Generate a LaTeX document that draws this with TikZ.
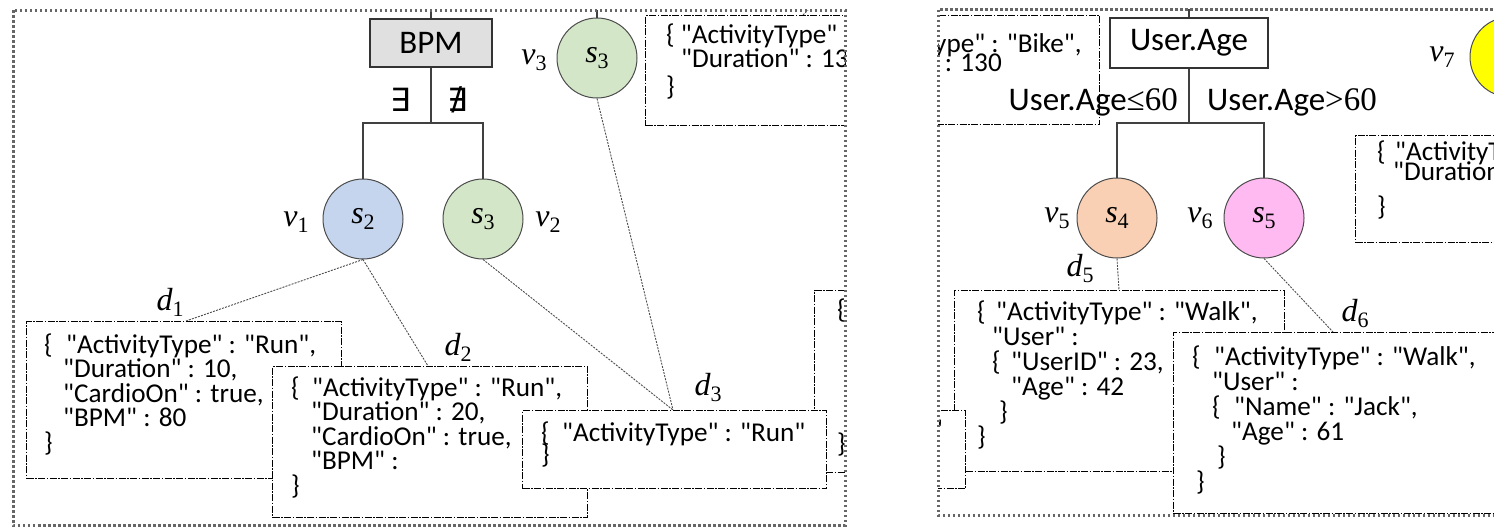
\documentclass[tikz,border=0pt]{standalone}
\usepackage{fontspec}
\newfontfamily\calib{Carlito}
\newfontfamily\serif{Liberation Serif}
\newfontfamily\djv{DejaVu Sans}
\usetikzlibrary{calc}
\definecolor{cblue}{RGB}{197,213,238}
\definecolor{cgreen}{RGB}{211,230,200}
\definecolor{cpeach}{RGB}{249,208,180}
\definecolor{cpink}{RGB}{255,186,242}
\definecolor{cyell}{RGB}{255,255,0}
\definecolor{cgray}{RGB}{224,224,224}
\newcommand\jt{\calib\fontsize{27.2}{25}\selectfont}
\newcommand\jv[2]{\vtop{\baselineskip=#1\lineskiplimit=-100pt\lineskip=0pt #2}}
\newcommand\ml[2]{{\serif\fontsize{32}{32}\selectfont\itshape #1}{\serif\fontsize{22}{22}\selectfont\raisebox{-6pt}{#2}}}
\tikzset{
  frame/.style={draw=black!60, line width=3pt, dash pattern=on 2.5pt off 2.5pt},
  jbox/.style={draw=black, fill=white, line width=1.1pt, dash pattern=on 7pt off 1.5pt on 1.5pt off 1.5pt, rectangle, inner sep=0, anchor=north west},
  jtext/.style={anchor=base west, inner sep=0, font=\jt},
  circ/.style={circle, draw=black!70, line width=1pt, minimum size=80pt, inner sep=0},
  tree/.style={draw=black!75, line width=1.3pt},
  conn/.style={draw=black!70, line width=0.9pt, dash pattern=on 2pt off 1.2pt},
  keybox/.style={draw=black!80, line width=1.3pt, rectangle, inner sep=0, font=\calib\fontsize{33}{33}\selectfont},
  lab/.style={inner sep=0},
  cond/.style={inner sep=0, font=\calib\fontsize{33}{33}\selectfont},
}
\begin{document}
\begin{tikzpicture}[x=1pt,y=-1pt]
\useasboundingbox (0,0) rectangle (1494,528);
% ================= LEFT PANEL =================
\begin{scope}
\clip (13,10) rectangle (845,525);
\node[keybox, fill=cgray, minimum width=122pt, minimum height=48pt] (bpm) at (431,43) {BPM};
\node[circ, fill=cblue] (v1) at (363,219) {\ml{s}{2}};
\node[circ, fill=cgreen] (v2) at (483,219) {\ml{s}{3}};
\node[circ, fill=cgreen] (v3) at (597,58) {\ml{s}{3}};
\coordinate (t1) at (431,10);
\coordinate (t3) at (597,10);
\coordinate (j1) at (431,123);
\draw[tree] (bpm.north) -- (t1);
\draw[tree] (v3.north) -- (t3);
\draw[tree] (bpm.south) -- (j1) -| (v1.north);
\draw[tree] (j1) -| (v2.north);
\coordinate (d1top) at (186,321);
\coordinate (d2top) at (428,366);
\coordinate (d3top) at (673,410);
\coordinate (bk1top) at (803,15);
\coordinate (bk1out) at (808,10);
\draw[conn] (v1.south) -- (d1top);
\draw[conn] (v1.south) -- (d2top);
\draw[conn] (v2.south) -- (d3top);
\draw[conn] (v3.south) -- (d3top);
\draw[conn] (bk1top) -- (bk1out);
% bike box (clipped)
\node[jbox, minimum width=324pt, minimum height=110pt] (bk1) at (645,15) {};
\node[jtext] (bk1a) at (666,43) {\{ "ActivityType"};
\node[jtext] (bk1b) at (681,67) {"Duration" : 13};
\node[jtext] (bk1c) at (666,95) {\}};
% d1
\node[jbox, minimum width=315pt, minimum height=157pt] (d1) at (26,321) {};
\node[jtext] (d1t) at (44,353) {\jv{24.5pt}{%
\hbox{\makebox[22pt][l]{\{}"ActivityType" : "Run",}
\hbox{\hspace*{19pt}"Duration" : 10,}
\hbox{\hspace*{19pt}"CardioOn" : true,}
\hbox{\hspace*{19pt}"BPM" : 80}
\hbox{\}}}};
% d2
\node[jbox, minimum width=315pt, minimum height=151pt] (d2) at (272,366) {};
\node[jtext] (d2t) at (291,396) {\jv{24.5pt}{%
\hbox{\makebox[21pt][l]{\{}"ActivityType" : "Run",}
\hbox{\hspace*{20pt}"Duration" : 20,}
\hbox{\hspace*{20pt}"CardioOn" : true,}
\hbox{\hspace*{20pt}"BPM" :}
\hbox{\}}}};
% right clipped box
\node[jbox, minimum width=200pt, minimum height=182pt] (rb1) at (814,290) {};
\node[jtext] (rb1a) at (837,318) {\{};
\node[jtext] (rb1b) at (837,452) {\}};
% d3
\node[jbox, minimum width=304pt, minimum height=78pt] (d3) at (522,410) {};
\node[jtext] (d3t) at (541,441) {\jv{22pt}{%
\hbox{\makebox[21pt][l]{\{}"ActivityType" : "Run"}
\hbox{\}}}};
% labels
\node[lab, font=\djv\fontsize{32}{32}\selectfont] (ex) at (401,100) {∃};
\node[lab, font=\djv\fontsize{32}{32}\selectfont] (nex) at (458,100) {∄};
\node[lab] (lv1) at (296,222) {\ml{v}{1}};
\node[lab] (lv2) at (548,222) {\ml{v}{2}};
\node[lab] (lv3) at (534,60) {\ml{v}{3}};
\node[lab] (ld1) at (170,302) {\ml{d}{1}};
\node[lab] (ld2) at (458,347) {\ml{d}{2}};
\node[lab] (ld3) at (708,387) {\ml{d}{3}};
\end{scope}
\draw[frame] (13,10) rectangle (845,525);
% ================= RIGHT PANEL =================
\begin{scope}
\clip (938,9) rectangle (1494,515);
\node[keybox, fill=white, minimum width=158pt, minimum height=50pt] (age) at (1189,43) {User.Age};
\node[circ, fill=cpeach] (v5) at (1117,218) {\ml{s}{4}};
\node[circ, fill=cpink] (v6) at (1264,218) {\ml{s}{5}};
\node[circ, fill=cyell] (v7) at (1510,57) {};
\coordinate (t2) at (1189,9);
\coordinate (j2) at (1189,123);
\draw[tree] (age.north) -- (t2);
\draw[tree] (age.south) -- (j2) -| (v5.north);
\draw[tree] (j2) -| (v6.north);
\coordinate (d5top) at (1119,290);
\coordinate (d6top) at (1333,332);
\draw[conn] (v5.south) -- (d5top);
\draw[conn] (v6.south) -- (d6top);
% bike box continuation
\node[jbox, minimum width=324pt, minimum height=109pt] (bk2) at (775,15) {};
\node[jtext] (bk2a) at (934,52) {ype" : "Bike",};
\node[jtext, anchor=base east] (bk2b) at (1002,71) {" : 130};
% right box
\node[jbox, minimum width=250pt, minimum height=107pt] (rb2) at (1355,135) {};
\node[jtext] (rb2a) at (1377,160) {\makebox[18pt][l]{\{}"ActivityType"};
\node[jtext] (rb2b) at (1393,180) {"Duration"};
\node[jtext] (rb2c) at (1377,215) {\}};
% d5
\node[jbox, minimum width=330pt, minimum height=181pt] (d5) at (954,290) {};
\node[jtext] (d5t) at (977,320) {\jv{25pt}{%
\hbox{\makebox[19pt][l]{\{}"ActivityType" : "Walk",}
\hbox{\hspace*{15pt}"User" :}
\hbox{\hspace*{15pt}\makebox[19pt][l]{\{}"UserID" : 23,}
\hbox{\hspace*{34pt}"Age" : 42}
\hbox{\hspace*{22pt}\}}
\hbox{\}}}};
% small box at left
\node[jbox, minimum width=65pt, minimum height=78pt] (sb) at (900,410) {};
\node[jtext, anchor=base east] (sbt) at (943,438) {"};
% d6
\node[jbox, minimum width=400pt, minimum height=181pt] (d6) at (1173,332) {};
\node[jtext] (d6t) at (1192,365) {\jv{25pt}{%
\hbox{\makebox[22pt][l]{\{}"ActivityType" : "Walk",}
\hbox{\hspace*{20pt}"User" :}
\hbox{\hspace*{20pt}\makebox[22pt][l]{\{}"Name" : "Jack",}
\hbox{\hspace*{39pt}"Age" : 61}
\hbox{\hspace*{25pt}\}}
\hbox{\hspace*{4pt}\}}}};
% labels
\node[cond, anchor=east] (cle) at (1178,102) {User.Age{\serif ≤60}};
\node[cond, anchor=west] (cgt) at (1207,102) {User.Age{\serif >60}};
\node[lab] (lv5) at (1057,218) {\ml{v}{5}};
\node[lab] (lv6) at (1200,218) {\ml{v}{6}};
\node[lab] (lv7) at (1442,57) {\ml{v}{7}};
\node[lab] (ld5) at (1080,268) {\ml{d}{5}};
\node[lab] (ld6) at (1355,313) {\ml{d}{6}};
\end{scope}
\draw[frame] (1520,515) -- (938,515) -- (938,9) -- (1520,9);
\end{tikzpicture}
\end{document}
